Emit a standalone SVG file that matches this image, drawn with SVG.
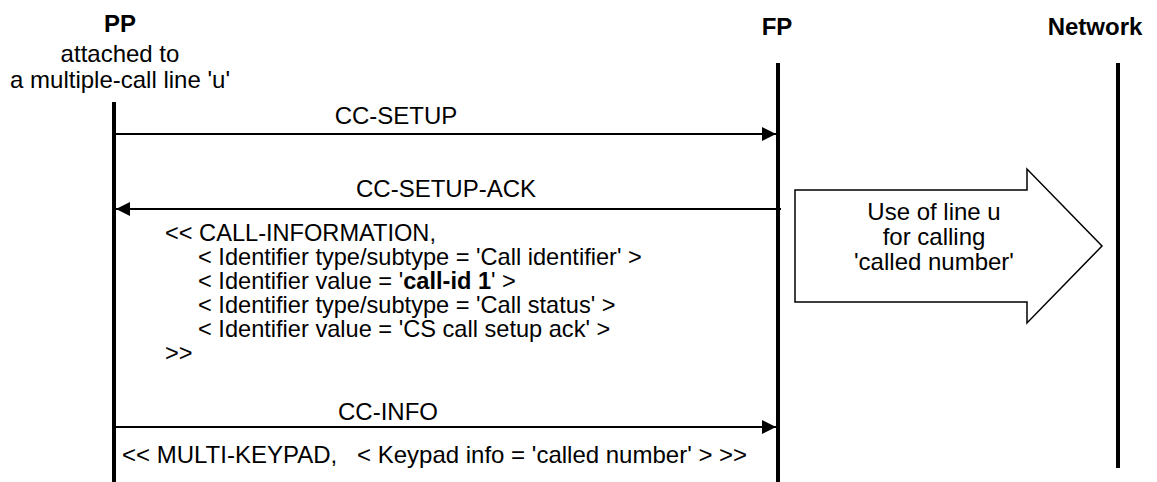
<svg xmlns="http://www.w3.org/2000/svg" width="1157" height="482" viewBox="0 0 1157 482">
<style>
text{font-family:"Liberation Sans",Arial,sans-serif;font-size:24px;fill:#000}
.b{font-weight:bold}
.m{text-anchor:middle}
.s{font-size:23.6px}
.life{stroke:#000;stroke-width:4;fill:none}
.msg{stroke:#000;stroke-width:2;fill:none}
</style>
<defs>
<marker id="ah" markerWidth="14" markerHeight="14" viewBox="0 0 14 14" refX="14" refY="7" orient="auto" markerUnits="userSpaceOnUse">
<path d="M0,0 L14,7 L0,14 Z" fill="#000"/>
</marker>
</defs>
<rect width="1157" height="482" fill="#fff"/>
<g id="pp">
<text class="b m" x="120" y="32">PP</text>
<text class="m" x="120" y="62">attached to</text>
<text class="m" x="120" y="88">a multiple-call line 'u'</text>
<line class="life" x1="114" y1="102" x2="114" y2="482"/>
</g>
<g id="fp">
<text class="b m" x="777" y="35">FP</text>
<line class="life" x1="778" y1="63" x2="778" y2="482"/>
</g>
<g id="network">
<text class="b m" x="1095" y="35">Network</text>
<line class="life" x1="1118" y1="63" x2="1118" y2="468"/>
</g>
<g id="use-line-u">
<path d="M795,190 H1027 V169 L1102,246 L1027,323 V302 H795 Z" fill="#fff" stroke="#000" stroke-width="1.5"/>
<text class="m" x="934" y="220">Use of line u</text>
<text class="m" x="934" y="245">for calling</text>
<text class="m" x="934" y="270">'called number'</text>
</g>
<g id="connectors">
<line class="msg" x1="116" y1="134" x2="776" y2="134" marker-end="url(#ah)"/>
<text class="m" x="396" y="124">CC-SETUP</text>
<line class="msg" x1="781" y1="209" x2="116" y2="209" marker-end="url(#ah)"/>
<text class="m" x="446" y="197">CC-SETUP-ACK</text>
<line class="msg" x1="116" y1="427" x2="776" y2="427" marker-end="url(#ah)"/>
<text x="338" y="420">CC-INFO</text>
</g>
<g id="call-information" class="s">
<text class="s" x="165" y="241">&lt;&lt; CALL-INFORMATION,</text>
<text class="s" x="198" y="265">&lt; Identifier type/subtype = 'Call identifier' &gt;</text>
<text class="s" x="198" y="289">&lt; Identifier value = '<tspan class="b">call-id 1</tspan>' &gt;</text>
<text class="s" x="198" y="313">&lt; Identifier type/subtype = 'Call status' &gt;</text>
<text class="s" x="198" y="337">&lt; Identifier value = 'CS call setup ack' &gt;</text>
<text class="s" x="165" y="361">&gt;&gt;</text>
</g>
<g id="multi-keypad">
<text x="122" y="463">&lt;&lt; MULTI-KEYPAD,<tspan x="357">&lt; Keypad info = 'called number' &gt; &gt;&gt;</tspan></text>
</g>
</svg>
